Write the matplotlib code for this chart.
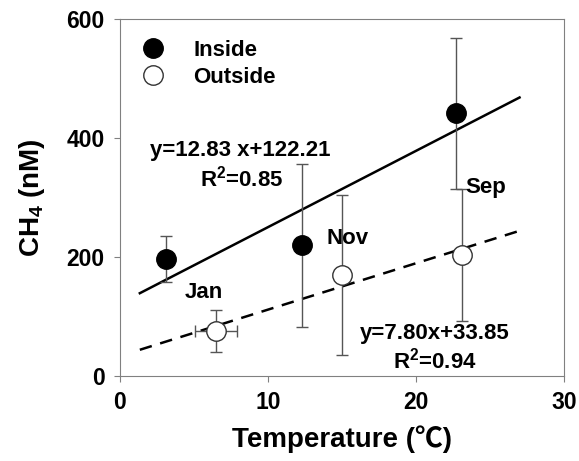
import numpy as np
import matplotlib.pyplot as plt

plt.rcParams['font.family'] = ['Liberation Sans', 'Noto Sans CJK JP', 'DejaVu Sans']
plt.rcParams['font.weight'] = 'bold'
plt.rcParams['mathtext.fontset'] = 'custom'
plt.rcParams['mathtext.rm'] = 'Liberation Sans:bold'
plt.rcParams['mathtext.bf'] = 'Liberation Sans:bold'
plt.rcParams['mathtext.default'] = 'bf'

# Inside
temp_in = [3.1, 12.3, 22.7]
ch4_in = [197, 220, 442]
err_in = [38, 137, 127]

# Outside
temp_out = [6.5, 15.0, 23.1]
ch4_out = [76, 170, 204]
xerr_out = [1.4, 0.4, 0.3]
yerr_out = [36, 135, 111]

months = ['Jan', 'Nov', 'Sep']
fit_in = (12.83, 122.21)
fit_out = (7.80, 33.85)
fit_range = [1.35, 27.0]

fig = plt.figure(figsize=(5.79, 4.61), dpi=100)
ax = fig.add_axes([0.207, 0.184, 0.767, 0.774])

xs = np.array(fit_range)
ax.plot(xs, fit_in[0] * xs + fit_in[1], color='black', lw=1.8, zorder=2)
ax.plot(xs, fit_out[0] * xs + fit_out[1], color='black', lw=1.8, ls=(0, (5, 3.5)), zorder=2)

ax.errorbar(temp_in, ch4_in, yerr=err_in, fmt='o', color='black', ms=14,
            ecolor='#555555', elinewidth=1, capsize=4, capthick=1, label='Inside', zorder=3)
ax.errorbar(temp_out, ch4_out, xerr=xerr_out, yerr=yerr_out, fmt='o', mfc='white',
            mec='#333333', mew=1, ms=14, ecolor='#555555', elinewidth=1, capsize=4,
            capthick=1, label='Outside', zorder=3)

fs = 16
ax.text(8.1, 379, 'y=12.83 x+122.21', ha='center', va='center', fontsize=fs, fontweight='bold')
ax.text(8.2, 332, 'R$^{2}$=0.85', ha='center', va='center', fontsize=fs, fontweight='bold')
ax.text(21.3, 71, 'y=7.80x+33.85', ha='center', va='center', fontsize=fs, fontweight='bold')
ax.text(21.3, 26, 'R$^{2}$=0.94', ha='center', va='center', fontsize=fs, fontweight='bold')
ax.text(5.7, 140, months[0], ha='center', va='center', fontsize=fs, fontweight='bold')
ax.text(15.4, 231, months[1], ha='center', va='center', fontsize=fs, fontweight='bold')
ax.text(24.7, 317, months[2], ha='center', va='center', fontsize=fs, fontweight='bold')

handles, labels = ax.get_legend_handles_labels()
handles = [h[0] for h in handles]
ax.legend(handles, labels, loc='upper left', bbox_to_anchor=(0.015, 0.985), frameon=False,
          handlelength=1, handletextpad=1.3, borderaxespad=0.3, labelspacing=0.25,
          prop={'weight': 'bold', 'size': 16})

ax.set_xlim(0, 30)
ax.set_ylim(0, 600)
ax.set_xticks([0, 10, 20, 30])
ax.set_yticks([0, 200, 400, 600])
for s in ax.spines.values():
    s.set_color('#808080')
ax.tick_params(direction='out', length=4, color='#808080', labelsize=16.5, pad=7)
for lab in ax.get_xticklabels() + ax.get_yticklabels():
    lab.set_fontweight('bold')

ax.set_xlabel('Temperature (℃)', fontsize=20, fontweight='bold', labelpad=8)
ax.set_ylabel('CH$_{4}$ (nM)', fontsize=20, fontweight='bold', labelpad=14)

fig.savefig('out.png', dpi=100)
